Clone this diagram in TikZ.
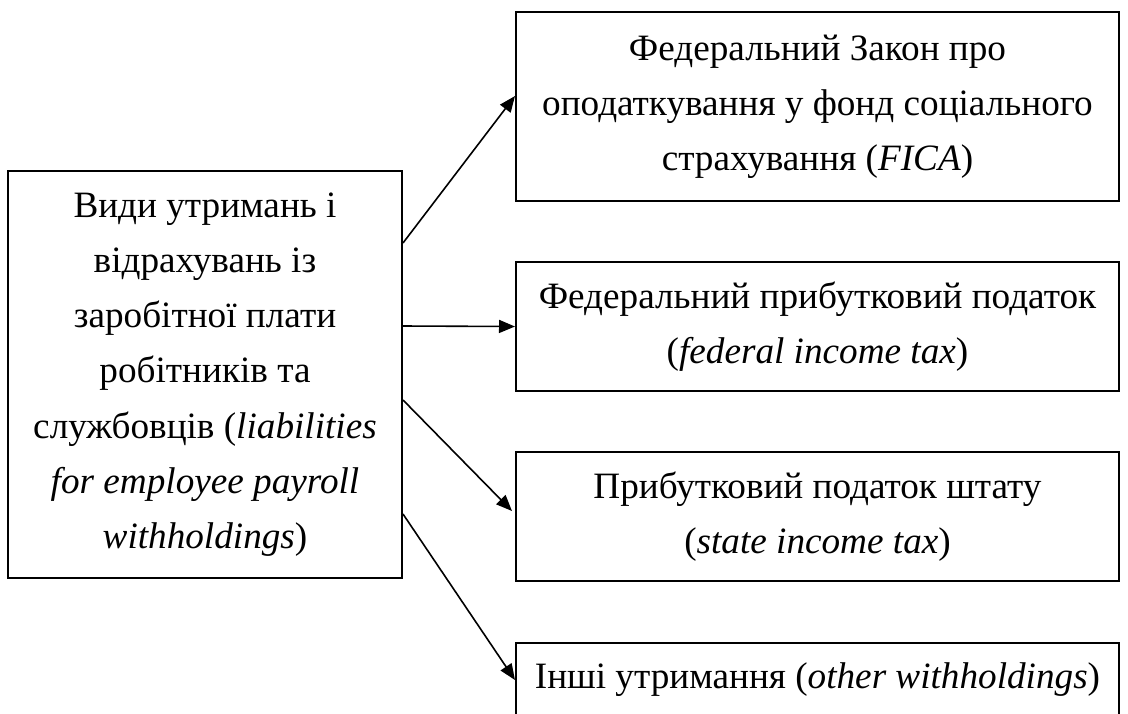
\documentclass[tikz,border=0pt]{standalone}
\usepackage{fontspec}
\setmainfont{Liberation Serif}
\usetikzlibrary{arrows.meta,calc}

\begin{document}
\begin{tikzpicture}[x=0.5pt,y=-0.5pt,
		box/.style={draw=black,line width=1pt,align=center,inner sep=0pt,
				minimum width=301.5pt,font=\fontsize{18.6pt}{27.6pt}\selectfont},
		link/.style={line width=0.8pt,-{Triangle[length=8pt,width=6.5pt]}},
	]
	\useasboundingbox (0,0) rectangle (1128,713);
	\clip (0,0) rectangle (1128,713);
	\def\eng#1{(\textit{#1})}
	\node[box,minimum width=197pt,minimum height=203.5pt] (lb) at (205,374.5) {Види утримань і\\відрахувань із\\заробітної плати\\робітників та\\службовців (\textit{liabilities}\\\textit{for employee payroll}\\\textit{withholdings})};
	\node[box,minimum height=94.5pt] (b1) at (817.5,106.5) {Федеральний Закон про\\оподаткування у фонд соціального\\страхування \eng{FICA}};
	\node[box,minimum height=64.5pt] (b2) at (817.5,326.5) {Федеральний прибутковий податок\\\eng{federal income tax}};
	\node[box,minimum height=64.5pt] (b3) at (817.5,516.5) {Прибутковий податок штату\\\eng{state income tax}};
	\node[box,minimum height=37pt] (b4) at (817.5,680) {Інші утримання \eng{other withholdings}};
	\draw[link] ([yshift=65.75pt]lb.east) -- ([yshift=5.25pt]b1.west);
	\draw[link] ([yshift=24.25pt]lb.east) -- (b2.west);
	\draw[link] ([yshift=-12.75pt]lb.east) -- ([xshift=-1.5pt,yshift=2.75pt]b3.west);
	\draw[link] ([yshift=-69.75pt]lb.east) -- (b4.west);
\end{tikzpicture}
\end{document}
